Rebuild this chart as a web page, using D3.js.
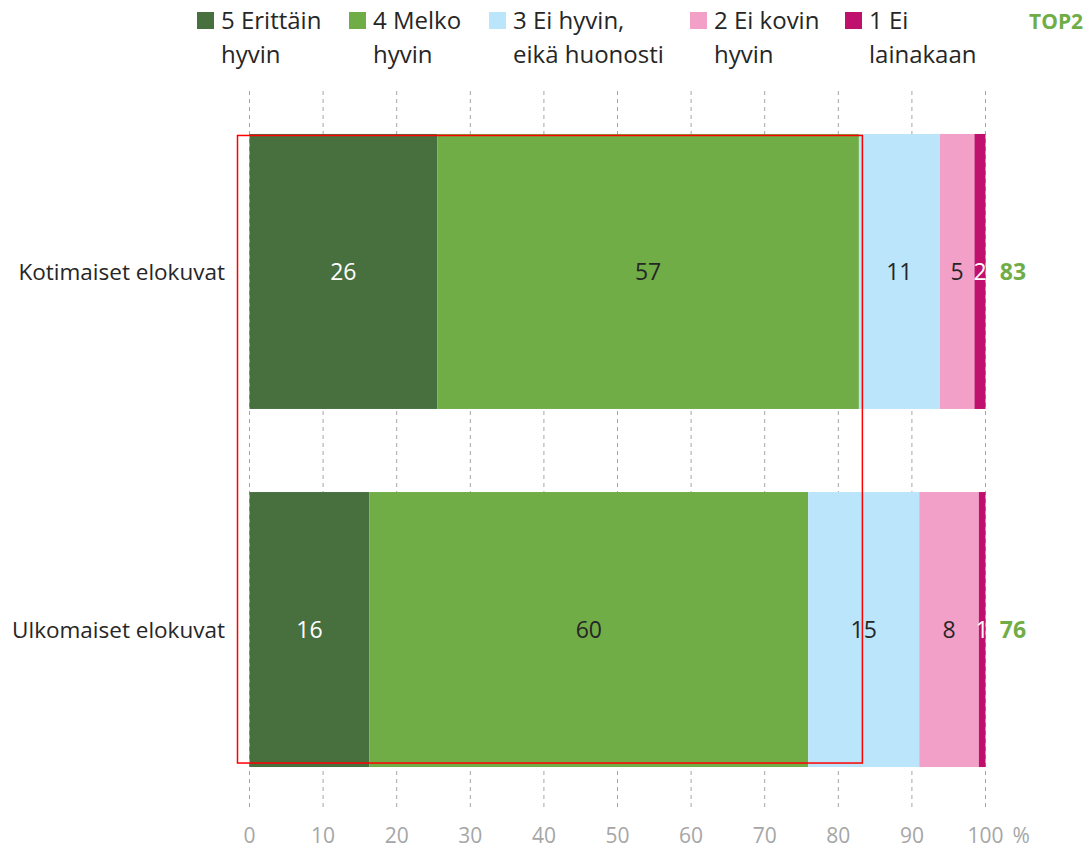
<!DOCTYPE html>
<html>
<head>
<meta charset="utf-8">
<script src="https://cdn.jsdelivr.net/npm/d3@7"></script>
<style>
  body { margin: 0; background: #fff; }
  svg { font-family: "Open Sans", "Noto Sans", sans-serif; }
</style>
</head>
<body>
<div id="chart"></div>
<script>
// data
const categories = ['Kotimaiset elokuvat', 'Ulkomaiset elokuvat'];
const seriesNames = [
  ['5 Erittäin', 'hyvin'],
  ['4 Melko', 'hyvin'],
  ['3 Ei hyvin,', 'eikä huonosti'],
  ['2 Ei kovin', 'hyvin'],
  ['1 Ei', 'lainakaan'],
];
const series5 = [25.5, 16.3];
const series4 = [57.3, 59.6];
const series3 = [11.0, 15.1];
const series2 = [4.7, 8.1];
const series1 = [1.5, 0.9];
const top2 = [83, 76];
const xTicks = [0, 10, 20, 30, 40, 50, 60, 70, 80, 90, 100];

const colors = ['#48703f', '#70ad47', '#bbe5fb', '#f2a0c8', '#c0106e'];
const labelColors = ['#fff', '#262626', '#262626', '#262626', '#fff'];
const legendX = [197, 349, 489, 690, 845];

const width = 1088;
const height = 850;

const svg = d3.select('#chart').append('svg')
  .attr('width', width)
  .attr('height', height);

const x = d3.scaleLinear()
  .domain([0, 100])
  .range([249.5, 985.5]);

const y = d3.scaleBand()
  .domain(categories)
  .range([91, 810])
  .paddingInner(0.232)
  .paddingOuter(0.12);

const allSeries = [series5, series4, series3, series2, series1];
const rows = categories.map((c, i) => {
  const row = { cat: c };
  allSeries.forEach((s, k) => { row['s' + k] = s[i]; });
  return row;
});
const stack = d3.stack().keys(allSeries.map((s, k) => 's' + k))(rows);

// gridlines
svg.append('g')
  .selectAll('line')
  .data(xTicks)
  .enter().append('line')
  .attr('x1', d => x(d))
  .attr('x2', d => x(d))
  .attr('y1', y.range()[0])
  .attr('y2', y.range()[1])
  .attr('stroke', '#a6a6a6')
  .attr('stroke-width', 1)
  .attr('stroke-dasharray', '4,4');

// bars
const layers = svg.append('g')
  .selectAll('g')
  .data(stack)
  .enter().append('g')
  .attr('fill', (d, k) => colors[k]);

layers.selectAll('rect')
  .data(d => d)
  .enter().append('rect')
  .attr('x', d => x(d[0]))
  .attr('width', d => x(d[1]) - x(d[0]))
  .attr('y', d => y(d.data.cat))
  .attr('height', y.bandwidth());

// data labels
stack.forEach((layer, k) => {
  svg.append('g')
    .selectAll('text')
    .data(layer)
    .enter().append('text')
    .attr('x', d => (x(d[0]) + x(d[1])) / 2)
    .attr('y', d => y(d.data.cat) + y.bandwidth() / 2)
    .attr('dy', '0.36em')
    .attr('text-anchor', 'middle')
    .attr('font-size', 23)
    .attr('fill', labelColors[k])
    .text(d => Math.round(d[1] - d[0]));
});

// top2 values
svg.append('g')
  .selectAll('text')
  .data(top2)
  .enter().append('text')
  .attr('x', 1013)
  .attr('y', (d, i) => y(categories[i]) + y.bandwidth() / 2)
  .attr('dy', '0.36em')
  .attr('text-anchor', 'middle')
  .attr('font-size', 23)
  .attr('font-weight', 'bold')
  .attr('fill', '#70ad47')
  .text(d => d);

// category labels
svg.append('g')
  .selectAll('text')
  .data(categories)
  .enter().append('text')
  .attr('x', 225)
  .attr('y', d => y(d) + y.bandwidth() / 2)
  .attr('dy', '0.36em')
  .attr('text-anchor', 'end')
  .attr('font-size', 22.5)
  .attr('fill', '#262626')
  .text(d => d);

// x axis labels
svg.append('g')
  .selectAll('text')
  .data(xTicks)
  .enter().append('text')
  .attr('x', d => x(d))
  .attr('y', 843)
  .attr('text-anchor', 'middle')
  .attr('font-size', 21)
  .attr('fill', '#a6a6a6')
  .text(d => d);

svg.append('text')
  .attr('x', x(100) + 27)
  .attr('y', 843)
  .attr('font-size', 21)
  .attr('fill', '#a6a6a6')
  .text('%');

// legend
const legend = svg.append('g')
  .selectAll('g')
  .data(seriesNames)
  .enter().append('g')
  .attr('transform', (d, i) => `translate(${legendX[i]},0)`);

legend.append('rect')
  .attr('x', 0)
  .attr('y', 12)
  .attr('width', 17)
  .attr('height', 17)
  .attr('fill', (d, i) => colors[i]);

legend.append('text')
  .attr('x', 24)
  .attr('y', 29)
  .attr('font-size', 24)
  .attr('fill', '#262626')
  .text(d => d[0]);

legend.append('text')
  .attr('x', 24)
  .attr('y', 63)
  .attr('font-size', 24)
  .attr('fill', '#262626')
  .text(d => d[1]);

svg.append('text')
  .attr('x', 1029)
  .attr('y', 29)
  .attr('font-size', 21)
  .attr('font-weight', 'bold')
  .attr('fill', '#70ad47')
  .text('TOP2');

// highlight box
svg.append('rect')
  .attr('x', x(0) - 12)
  .attr('y', y(categories[0]) + 1.5)
  .attr('width', x(top2[0]) - x(0) + 14)
  .attr('height', y(categories[1]) + y.bandwidth() - y(categories[0]) - 5.5)
  .attr('fill', 'none')
  .attr('stroke', '#ff0000')
  .attr('stroke-width', 1.5);
</script>
</body>
</html>
